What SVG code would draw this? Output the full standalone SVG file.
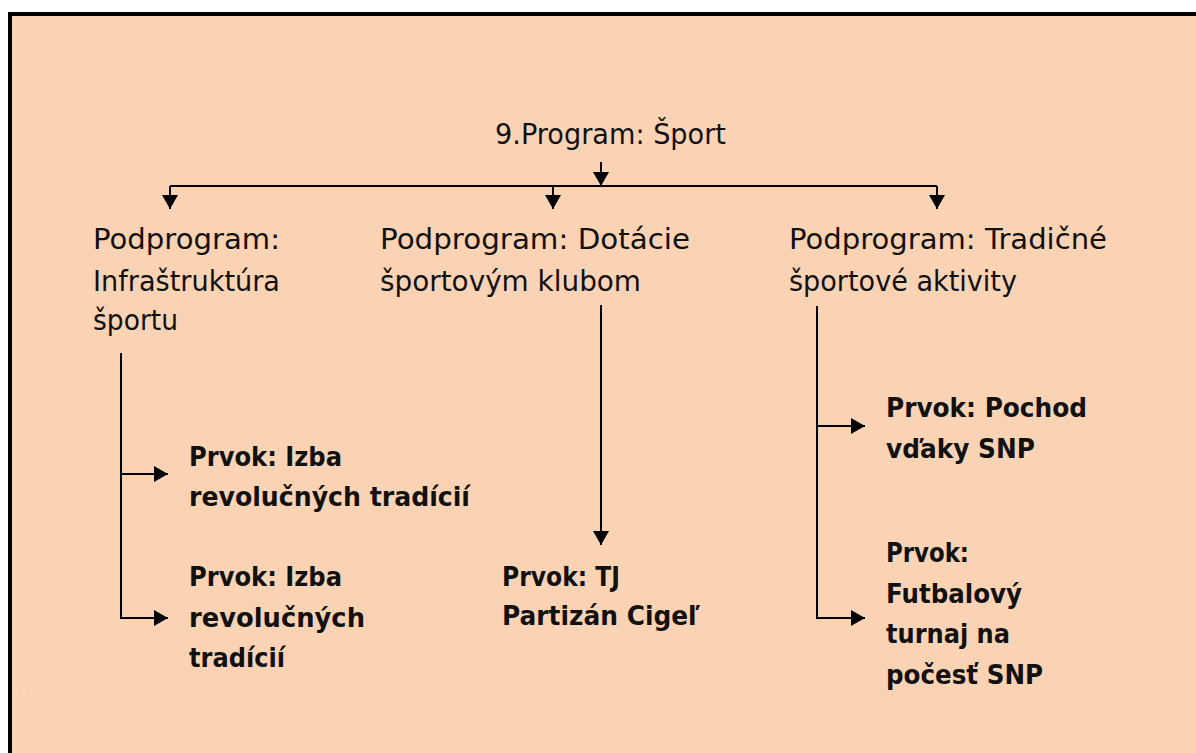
<svg xmlns="http://www.w3.org/2000/svg" width="1196" height="753" viewBox="0 0 1196 753">
<style>
.t{font-family:"DejaVu Sans","Liberation Sans",sans-serif;font-size:28px;fill:#111}
.b{font-family:"DejaVu Sans","Liberation Sans",sans-serif;font-size:26px;font-weight:bold;fill:#111}
.c{fill:none;stroke:#000;stroke-width:2}
</style>
<defs>
<marker id="ah" viewBox="0 0 14 16" refX="14" refY="8" markerWidth="14" markerHeight="16" markerUnits="userSpaceOnUse" orient="auto">
<path d="M0,0 L14,8 L0,16 Z" fill="#000"/>
</marker>
</defs>
<rect x="0" y="0" width="1196" height="753" fill="#fff"/>
<rect x="8" y="12" width="1188" height="741" fill="#000"/>
<rect x="12" y="16" width="1184" height="737" fill="#FAD3B4"/>
<line x1="24" y1="16" x2="24" y2="692" stroke="#FBDCC4" stroke-width="1"/>

<g id="connectors">
<path class="c" d="M601,162 V186" marker-end="url(#ah)"/>
<path class="c" d="M170,186 H937" stroke-width="1.6"/>
<path class="c" d="M170,186 V209" marker-end="url(#ah)"/>
<path class="c" d="M553,186 V209" marker-end="url(#ah)"/>
<path class="c" d="M937,186 V209" marker-end="url(#ah)"/>
<path class="c" d="M121,353 V618 H168" marker-end="url(#ah)"/>
<path class="c" d="M121,474 H168" marker-end="url(#ah)"/>
<path class="c" d="M601,305 V545" marker-end="url(#ah)"/>
<path class="c" d="M817,306 V618 H865" marker-end="url(#ah)"/>
<path class="c" d="M817,426 H865" marker-end="url(#ah)"/>
</g>

<g id="program">
<text class="t" x="495" y="144" textLength="231" lengthAdjust="spacingAndGlyphs">9.Program: Šport</text>
</g>

<g id="sub-infra">
<text class="t" x="93" y="249" textLength="187" lengthAdjust="spacingAndGlyphs">Podprogram:</text>
<text class="t" x="93" y="291" textLength="187" lengthAdjust="spacingAndGlyphs">Infraštruktúra</text>
<text class="t" x="93" y="330" textLength="85" lengthAdjust="spacingAndGlyphs">športu</text>
</g>

<g id="sub-dotacie">
<text class="t" x="380" y="249" textLength="310" lengthAdjust="spacingAndGlyphs">Podprogram: Dotácie</text>
<text class="t" x="380" y="291" textLength="261" lengthAdjust="spacingAndGlyphs">športovým klubom</text>
</g>

<g id="sub-tradicne">
<text class="t" x="789" y="249" textLength="318" lengthAdjust="spacingAndGlyphs">Podprogram: Tradičné</text>
<text class="t" x="789" y="291" textLength="228" lengthAdjust="spacingAndGlyphs">športové aktivity</text>
</g>

<g id="prvok-izba-1">
<text class="b" x="189" y="466" textLength="153" lengthAdjust="spacingAndGlyphs">Prvok: Izba</text>
<text class="b" x="189" y="506" textLength="281" lengthAdjust="spacingAndGlyphs">revolučných tradícií</text>
</g>

<g id="prvok-izba-2">
<text class="b" x="189" y="586" textLength="153" lengthAdjust="spacingAndGlyphs">Prvok: Izba</text>
<text class="b" x="189" y="627" textLength="176" lengthAdjust="spacingAndGlyphs">revolučných</text>
<text class="b" x="189" y="667" textLength="96" lengthAdjust="spacingAndGlyphs">tradícií</text>
</g>

<g id="prvok-tj">
<text class="b" x="502" y="586" textLength="118" lengthAdjust="spacingAndGlyphs">Prvok: TJ</text>
<text class="b" x="502" y="625" textLength="198" lengthAdjust="spacingAndGlyphs">Partizán Cigeľ</text>
</g>

<g id="prvok-pochod">
<text class="b" x="886" y="417" textLength="201" lengthAdjust="spacingAndGlyphs">Prvok: Pochod</text>
<text class="b" x="886" y="458" textLength="149" lengthAdjust="spacingAndGlyphs">vďaky SNP</text>
</g>

<g id="prvok-futbal">
<text class="b" x="886" y="562" textLength="83" lengthAdjust="spacingAndGlyphs">Prvok:</text>
<text class="b" x="886" y="603" textLength="136" lengthAdjust="spacingAndGlyphs">Futbalový</text>
<text class="b" x="886" y="643" textLength="124" lengthAdjust="spacingAndGlyphs">turnaj na</text>
<text class="b" x="886" y="684" textLength="157" lengthAdjust="spacingAndGlyphs">počesť SNP</text>
</g>
</svg>
